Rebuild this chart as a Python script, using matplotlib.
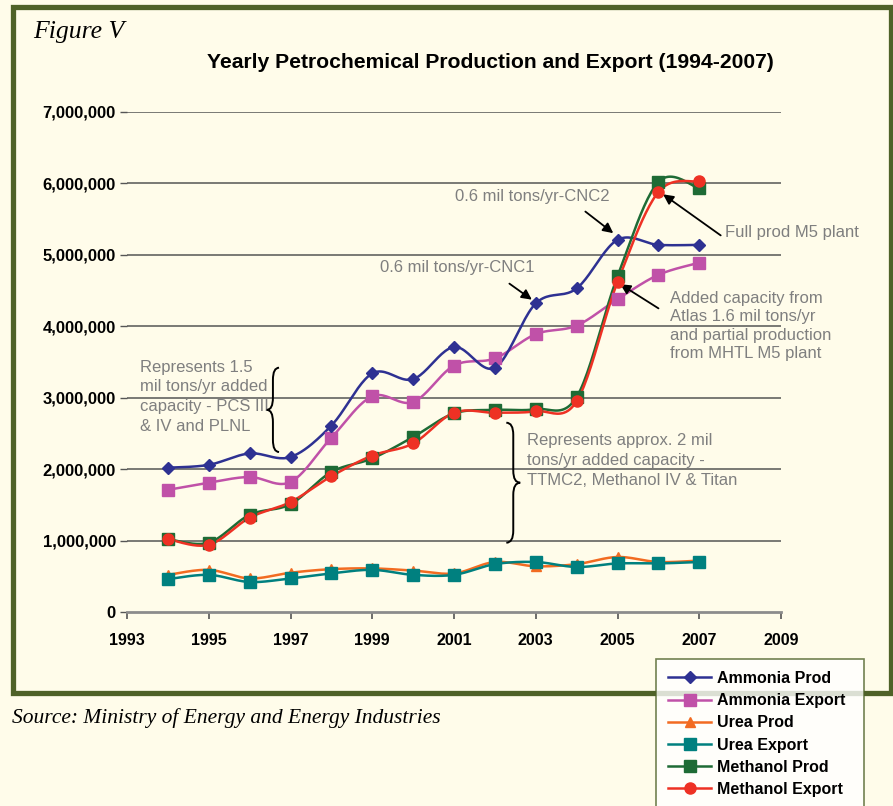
import numpy as np
import matplotlib.pyplot as plt
from matplotlib.path import Path
from matplotlib.patches import PathPatch, Rectangle
from matplotlib.lines import Line2D

years = [1994, 1995, 1996, 1997, 1998, 1999, 2000, 2001, 2002, 2003, 2004, 2005, 2006, 2007]

ammonia_prod = [2020000, 2060000, 2220000, 2170000, 2610000, 3340000, 3260000,
                3710000, 3420000, 4320000, 4530000, 5210000, 5140000, 5140000]
ammonia_export = [1710000, 1810000, 1890000, 1820000, 2440000, 3020000, 2940000,
                  3450000, 3550000, 3890000, 4010000, 4380000, 4720000, 4890000]
urea_prod = [520000, 590000, 470000, 550000, 600000, 610000, 580000,
             540000, 700000, 640000, 670000, 770000, 700000, 720000]
urea_export = [460000, 520000, 420000, 470000, 540000, 590000, 520000,
               520000, 670000, 700000, 630000, 680000, 680000, 700000]
methanol_prod = [1020000, 970000, 1360000, 1510000, 1960000, 2150000, 2450000,
                 2780000, 2830000, 2840000, 3010000, 4700000, 6020000, 5930000]
methanol_export = [1020000, 940000, 1320000, 1540000, 1900000, 2190000, 2360000,
                   2790000, 2790000, 2810000, 2950000, 4620000, 5880000, 6030000]

y_ticks = [0, 1000000, 2000000, 3000000, 4000000, 5000000, 6000000, 7000000]
x_ticks = [1993, 1995, 1997, 1999, 2001, 2003, 2005, 2007, 2009]

BG = "#FFFCEA"
FRAME = "#4F6228"
GRAY_TXT = "#7F7F7F"


def smooth(x, y, n=24):
    # Excel-style smoothed line (Catmull-Rom bezier through the points)
    x = np.asarray(x, float)
    y = np.asarray(y, float)
    px = np.concatenate([[x[0]], x, [x[-1]]])
    py = np.concatenate([[y[0]], y, [y[-1]]])
    xs, ys = [], []
    t = np.linspace(0, 1, n)
    for i in range(1, len(px) - 2):
        p0 = np.array([px[i], py[i]])
        p3 = np.array([px[i + 1], py[i + 1]])
        p1 = p0 + (p3 - np.array([px[i - 1], py[i - 1]])) / 6
        p2 = p3 - (np.array([px[i + 2], py[i + 2]]) - p0) / 6
        b = ((1 - t) ** 3)[:, None] * p0 + (3 * (1 - t) ** 2 * t)[:, None] * p1 \
            + (3 * (1 - t) * t ** 2)[:, None] * p2 + (t ** 3)[:, None] * p3
        xs.extend(b[:, 0])
        ys.extend(b[:, 1])
    return xs, ys


def brace(ax, xv, y0, y1, d, h, r):
    ym = (y0 + y1) / 2
    verts = [(xv - d * h, y1), (xv, y1), (xv, y1 - r),
             (xv, ym + r), (xv, ym), (xv + d * h, ym),
             (xv, ym), (xv, ym - r),
             (xv, y0 + r), (xv, y0), (xv - d * h, y0)]
    codes = [Path.MOVETO, Path.CURVE3, Path.CURVE3,
             Path.LINETO, Path.CURVE3, Path.CURVE3,
             Path.CURVE3, Path.CURVE3,
             Path.LINETO, Path.CURVE3, Path.CURVE3]
    ax.add_patch(PathPatch(Path(verts, codes), fill=False, lw=1.4, color="black",
                           clip_on=False, zorder=6))


fig = plt.figure(figsize=(8.93, 8.06), dpi=100, facecolor=BG)
plt.rcParams["font.family"] = ["Liberation Sans", "DejaVu Sans"]

# green frame
fig.patches.append(Rectangle((12.5 / 893, 1 - 692.5 / 806), 878 / 893, 686 / 806,
                             transform=fig.transFigure, fill=False, lw=3.8,
                             edgecolor=FRAME, zorder=0))

ax = fig.add_axes([127 / 893, 1 - 612 / 806, 654 / 893, 500 / 806])
ax.set_facecolor(BG)

series = [
    (urea_prod, "Urea Prod", "#F26B21", "^", 7),
    (urea_export, "Urea Export", "#00807F", "s", 8),
    (ammonia_export, "Ammonia Export", "#C051A8", "s", 8),
    (ammonia_prod, "Ammonia Prod", "#2E3192", "D", 6),
    (methanol_prod, "Methanol Prod", "#1E6B35", "s", 8),
    (methanol_export, "Methanol Export", "#EE3124", "o", 8),
]
handles = {}
for vals, name, col, mk, ms in series:
    sx, sy = smooth(years, vals)
    ax.plot(sx, sy, color=col, lw=1.8, zorder=3)
    ax.plot(years, vals, ls="none", marker=mk, ms=ms, color=col, zorder=4)
    handles[name] = Line2D([], [], color=col, lw=1.8, marker=mk, ms=ms)

ax.set_xlim(1993, 2009)
ax.set_ylim(0, 7000000)
ax.set_xticks(x_ticks)
ax.set_yticks(y_ticks)
ax.set_yticklabels([f"{v:,}" for v in y_ticks], fontsize=12, fontweight="bold")
ax.set_xticklabels([str(v) for v in x_ticks], fontsize=11.5, fontweight="bold")
for v in y_ticks[1:]:
    ax.axhline(v, color="#555555", lw=1.1, zorder=1)
for s in ["top", "right", "left"]:
    ax.spines[s].set_visible(False)
ax.spines["bottom"].set_color("#8C8C8C")
ax.spines["bottom"].set_linewidth(2)
ax.tick_params(axis="x", length=5, width=1.2, color="#555555", pad=10)
ax.tick_params(axis="y", length=5, width=1.0, color="#555555", pad=3)

# annotations
arrow = dict(arrowstyle="-|>", color="black", lw=1.3, mutation_scale=15)
ax.text(2001.02, 5810000, "0.6 mil tons/yr-CNC2", color=GRAY_TXT, fontsize=12, va="center")
ax.annotate("", xy=(2004.95, 5280000), xytext=(2004.16, 5630000), arrowprops=arrow)
ax.text(1999.19, 4820000, "0.6 mil tons/yr-CNC1", color=GRAY_TXT, fontsize=12, va="center")
ax.annotate("", xy=(2002.96, 4350000), xytext=(2002.30, 4620000), arrowprops=arrow)
ax.text(2007.63, 5310000, "Full prod M5 plant", color=GRAY_TXT, fontsize=12, va="center",
        clip_on=False)
ax.annotate("", xy=(2006.06, 5870000), xytext=(2007.58, 5250000), arrowprops=arrow)
ax.text(2006.28, 4500000,
        "Added capacity from\nAtlas 1.6 mil tons/yr\nand partial production\nfrom MHTL M5 plant",
        color=GRAY_TXT, fontsize=12, va="top", linespacing=1.3)
ax.annotate("", xy=(2005.01, 4610000), xytext=(2006.06, 4230000), arrowprops=arrow)
ax.text(1993.32, 3530000,
        "Represents 1.5\nmil tons/yr added\ncapacity - PCS III\n& IV and PLNL",
        color=GRAY_TXT, fontsize=12, va="top", linespacing=1.38)
ax.text(2002.79, 2500000,
        "Represents approx. 2 mil\ntons/yr added capacity -\nTTMC2, Methanol IV & Titan",
        color=GRAY_TXT, fontsize=12, va="top", linespacing=1.4)
brace(ax, 1996.57, 2240000, 3420000, -1, 0.15, 170000)
brace(ax, 2002.45, 970000, 2650000, 1, 0.17, 170000)

# titles
fig.text(33 / 893, 1 - 32 / 806, "Figure V", family="Liberation Serif", style="italic",
         fontsize=18.5, va="center")
fig.text(490 / 893, 1 - 63 / 806, "Yearly Petrochemical Production and Export (1994-2007)",
         fontsize=15.2, fontweight="bold", ha="center", va="center")
fig.text(12 / 893, 1 - 718 / 806, "Source: Ministry of Energy and Energy Industries",
         family="Liberation Serif", style="italic", fontsize=15.5, va="center")

# legend
order = ["Ammonia Prod", "Ammonia Export", "Urea Prod", "Urea Export",
         "Methanol Prod", "Methanol Export"]
leg_h = 150 / 806
leg = fig.legend([handles[k] for k in order], order, loc="upper left",
                 bbox_to_anchor=(656 / 893, 1 - 659 / 806 - leg_h, 208 / 893, leg_h),
                 mode="expand", frameon=True, fancybox=False, handlelength=2.7,
                 prop={"weight": "bold", "size": 11.5}, labelspacing=0.45,
                 borderaxespad=0, borderpad=0.75, handletextpad=0.35)
leg.get_frame().set_edgecolor(FRAME)
leg.get_frame().set_linewidth(1.2)
leg.get_frame().set_facecolor("white")
leg.set_zorder(10)

fig.savefig("out.png", dpi=100, facecolor=BG)
